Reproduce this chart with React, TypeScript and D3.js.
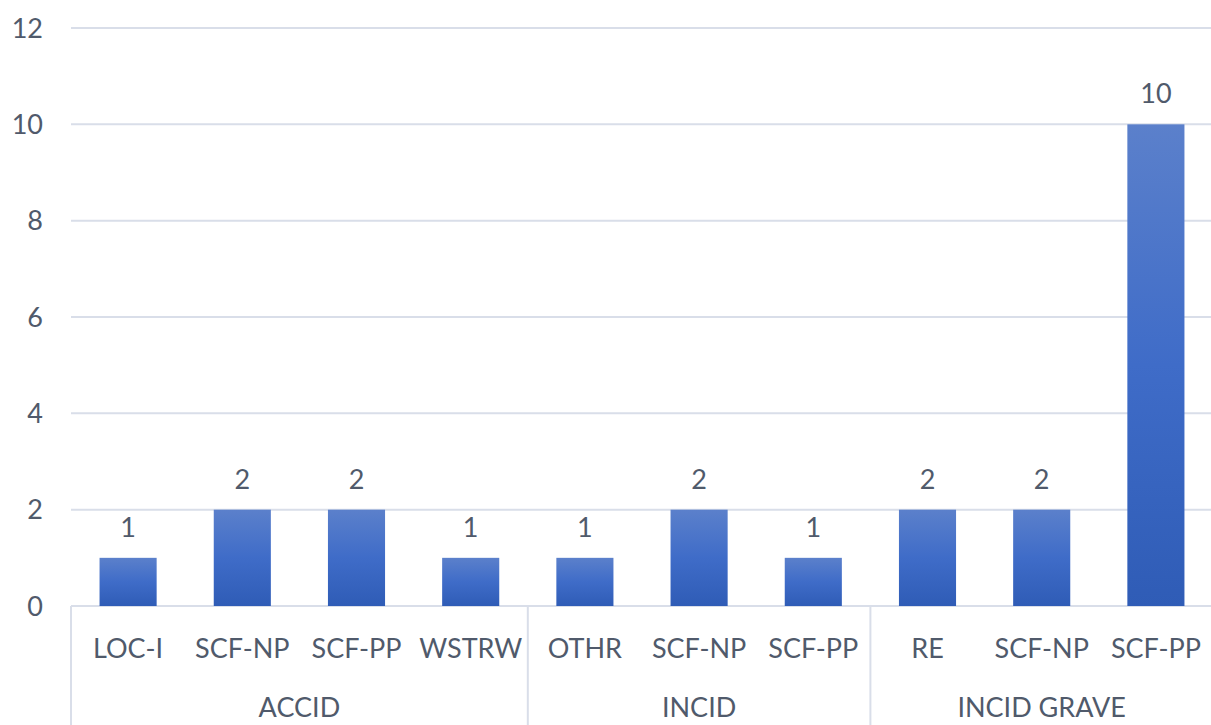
import { useEffect, useRef } from 'react'
import * as d3 from 'd3'

const groups = ['ACCID', 'INCID', 'INCID GRAVE']
const categories = ['LOC-I', 'SCF-NP', 'SCF-PP', 'WSTRW', 'OTHR', 'SCF-NP', 'SCF-PP', 'RE', 'SCF-NP', 'SCF-PP']
const categoryGroup = [0, 0, 0, 0, 1, 1, 1, 2, 2, 2]
const values = [1, 2, 2, 1, 1, 2, 1, 2, 2, 10]
const yTicks = [0, 2, 4, 6, 8, 10, 12]

const W = 1211
const H = 725

export default function App() {
  const svgRef = useRef<SVGSVGElement>(null)

  useEffect(() => {
    if (!svgRef.current) return
    const svg = d3.select(svgRef.current)
    svg.selectAll('*').remove()

    const left = 71
    const right = 1213
    const top = 28
    const bottom = 606
    const font = 'Lato, "Open Sans", sans-serif'
    const textColor = '#505a6b'
    const gridColor = '#d9dee9'

    const x = d3.scaleBand<number>()
      .domain(d3.range(categories.length))
      .range([left, right])
      .paddingInner(0.5)
      .paddingOuter(0.25)
    const step = x.step()

    const y = d3.scaleLinear().domain([0, 12]).range([bottom, top])

    // gradient for bars
    const defs = svg.append('defs')
    const grad = defs.append('linearGradient')
      .attr('id', 'barGrad')
      .attr('x1', 0).attr('y1', 0).attr('x2', 0).attr('y2', 1)
    grad.append('stop').attr('offset', '0%').attr('stop-color', '#5b80cb')
    grad.append('stop').attr('offset', '50%').attr('stop-color', '#3f6cc8')
    grad.append('stop').attr('offset', '100%').attr('stop-color', '#2f5cb6')

    // gridlines
    svg.append('g')
      .selectAll('line')
      .data(yTicks)
      .enter()
      .append('line')
      .attr('x1', left)
      .attr('x2', right)
      .attr('y1', d => y(d))
      .attr('y2', d => y(d))
      .attr('stroke', gridColor)
      .attr('stroke-width', 2)

    // y tick labels
    svg.append('g')
      .selectAll('text')
      .data(yTicks)
      .enter()
      .append('text')
      .attr('x', 43)
      .attr('y', d => y(d))
      .attr('dy', '0.36em')
      .attr('text-anchor', 'end')
      .attr('font-family', font)
      .attr('font-size', 27)
      .attr('fill', textColor)
      .text(d => d)

    // bars
    svg.append('g')
      .selectAll('rect')
      .data(values)
      .enter()
      .append('rect')
      .attr('x', (_d, i) => x(i)!)
      .attr('width', x.bandwidth())
      .attr('y', d => y(d))
      .attr('height', d => y(0) - y(d))
      .attr('fill', 'url(#barGrad)')

    // value labels
    svg.append('g')
      .selectAll('text')
      .data(values)
      .enter()
      .append('text')
      .attr('x', (_d, i) => x(i)! + x.bandwidth() / 2)
      .attr('y', d => y(d) - 21)
      .attr('text-anchor', 'middle')
      .attr('font-family', font)
      .attr('font-size', 27)
      .attr('fill', textColor)
      .text(d => d)

    // category labels
    svg.append('g')
      .selectAll('text')
      .data(categories)
      .enter()
      .append('text')
      .attr('x', (_d, i) => x(i)! + x.bandwidth() / 2)
      .attr('y', 648)
      .attr('dy', '0.36em')
      .attr('text-anchor', 'middle')
      .attr('font-family', font)
      .attr('font-size', 27)
      .attr('fill', textColor)
      .text(d => d)

    // group separators and labels
    const groupStart = groups.map((_g, gi) => categoryGroup.indexOf(gi))
    const groupEnd = groups.map((_g, gi) => categoryGroup.lastIndexOf(gi) + 1)
    const edgeX = (i: number) => left + i * step

    const seps = Array.from(new Set([...groupStart, ...groupEnd]))
    svg.append('g')
      .selectAll('line')
      .data(seps)
      .enter()
      .append('line')
      .attr('x1', d => edgeX(d))
      .attr('x2', d => edgeX(d))
      .attr('y1', bottom)
      .attr('y2', H)
      .attr('stroke', gridColor)
      .attr('stroke-width', 2)

    svg.append('g')
      .selectAll('text')
      .data(groups)
      .enter()
      .append('text')
      .attr('x', (_d, gi) => (edgeX(groupStart[gi]) + edgeX(groupEnd[gi])) / 2)
      .attr('y', 707)
      .attr('dy', '0.36em')
      .attr('text-anchor', 'middle')
      .attr('font-family', font)
      .attr('font-size', 27)
      .attr('fill', textColor)
      .text(d => d)
  }, [])

  return (
    <svg
      ref={svgRef}
      width={W}
      height={H}
      style={{ position: 'absolute', left: 0, top: 0, background: '#ffffff' }}
    />
  )
}
